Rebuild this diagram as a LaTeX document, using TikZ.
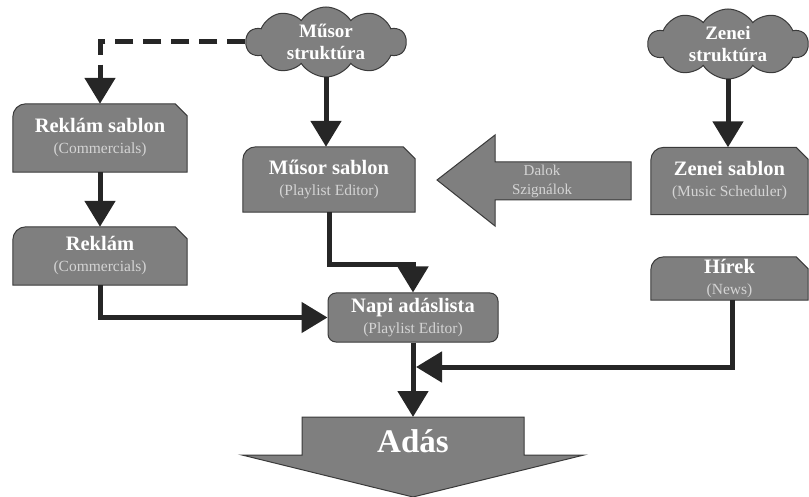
\documentclass[tikz,border=0pt]{standalone}
\usepackage{fontspec}
\setmainfont{Liberation Serif}
\usetikzlibrary{arrows.meta,shapes.symbols,calc}
\pgfdeclarelayer{bg}
\pgfsetlayers{bg,main}
\definecolor{boxgray}{HTML}{7F7F7F}
\definecolor{edgegray}{HTML}{3A3A3A}
\definecolor{linedark}{HTML}{262626}
\definecolor{subgray}{HTML}{D4D4D4}
\newcommand{\ttlfont}{\bfseries\fontsize{20.5}{21}\selectfont}
\newcommand{\subfont}{\mdseries\fontsize{15.5}{18}\selectfont\color{subgray}}
\tikzset{
  boxtext/.style={align=center,text=white,inner sep=0pt,minimum width=#1,font=\ttlfont},
  boxdraw/.style={fill=boxgray,draw=edgegray,line width=1pt},
  conn/.style={draw=linedark,line width=5pt,-{Triangle[length=26pt,width=30pt]}},
  cloudnode/.style={cloud,cloud puffs=10,cloud puff arc=115,aspect=2.4,fill=boxgray,draw=edgegray,line width=1pt,
     align=center,text=white,font=\bfseries\fontsize{19}{22}\selectfont,minimum width=160pt,minimum height=70pt,inner sep=0pt},
}
\newcommand{\chambox}[1]{%
  \begin{pgfonlayer}{bg}
  \draw[boxdraw] (#1.south west) -- ([yshift=-13pt]#1.north west)
     arc[start angle=180,end angle=90,radius=13pt]
     -- ([xshift=-12pt]#1.north east) -- ([yshift=-12pt]#1.north east)
     -- (#1.south east) -- cycle;
  \end{pgfonlayer}}
\begin{document}
\begin{tikzpicture}[x=1pt,y=-1pt]
\useasboundingbox (0,0) rectangle (809,497);
% clouds
\node[cloudnode] (mcl) at (326,42) {Műsor\\struktúra};
\node[cloudnode] (zcl) at (728,44) {Zenei\\struktúra};
% Dalok arrow
\draw[boxdraw] (631,162) -- (495,162) -- (495,135) -- (437,180) -- (495,226) -- (495,200) -- (631,200) -- cycle;
\node[align=center,text=subgray,font=\fontsize{15}{19}\selectfont] (dal) at (542,181) {Dalok\\Szignálok};
% boxes
\node[boxtext=174pt,minimum height=68pt] (rs) at (100,138) {Reklám sablon\\{\subfont (Commercials)}};
\chambox{rs}
\node[boxtext=174pt,minimum height=58pt] (rk) at (100,256) {Reklám\\{\subfont (Commercials)}};
\chambox{rk}
\node[boxtext=172pt,minimum height=65pt] (ms) at (329,179.5) {Műsor sablon\\{\subfont (Playlist Editor)}};
\chambox{ms}
\node[boxtext=157pt,minimum height=67pt] (zs) at (729.5,181) {Zenei sablon\\{\subfont (Music Scheduler)}};
\chambox{zs}
\node[boxtext=157pt,minimum height=43pt] (hr) at (729.5,278.5) {Hírek\\{\subfont (News)}};
\chambox{hr}
\node[boxtext=170pt,minimum height=49pt,boxdraw,rounded corners=8pt] (na) at (413,317.5) {Napi adáslista\\{\subfont (Playlist Editor)}};
% Adas arrow
\draw[boxdraw] (302,417) -- (524,417) -- (524,455) -- (584,455) -- (413,497) -- (242,455) -- (302,455) -- cycle;
\node[text=white,font=\bfseries\fontsize{33}{35}\selectfont] (ad) at (413,441) {Adás};
\coordinate (adtop) at (413,417);
% connectors
\draw[conn,dash pattern=on 18pt off 10pt] (mcl.west) -| (rs.north);
\draw[conn] (rs.south) -- (rk.north);
\draw[conn] (mcl.south) -- (mcl.south |- ms.north);
\draw[conn] (zcl.south) -- (zcl.south |- zs.north);
\draw[conn] (ms.south) |- (413,265) -- (na.north);
\draw[conn] (rk.south) |- (na.west);
\draw[conn] (na.south) -- (adtop);
\coordinate (hj) at (416,367);
\draw[conn] ([xshift=3pt]hr.south) |- (hj);
\end{tikzpicture}
\end{document}
